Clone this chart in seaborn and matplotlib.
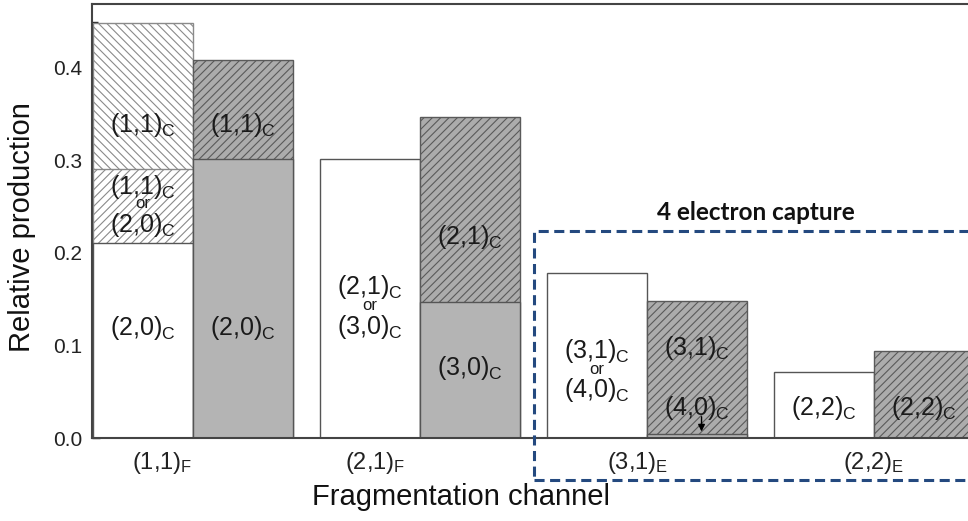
import numpy as np
import pandas as pd
import matplotlib
matplotlib.use("Agg")
import matplotlib.pyplot as plt
import seaborn as sns
from matplotlib.patches import Rectangle

# ---------------- data ----------------
channels = [r"(1,1)$_\mathregular{F}$", r"(2,1)$_\mathregular{F}$",
            r"(3,1)$_\mathregular{E}$", r"(2,2)$_\mathregular{E}$"]
series = ["measured", "model"]

# cumulative heights of stacked segments (NaN = segment absent)
left_upper = [0.448, np.nan, np.nan, np.nan]    # back-hatched (1,1)_C
left_middle = [0.291, np.nan, np.nan, np.nan]   # hatched (1,1)_C or (2,0)_C
left_white = [0.211, 0.301, 0.178, 0.071]       # open bars
right_hatched = [0.409, 0.347, 0.148, 0.094]    # dark hatched
right_solid = [0.302, 0.147, 0.004, np.nan]     # solid grey base

# in-bar labels: (channel index, series, y, text, size)
C = r"$_\mathregular{C}$"
bar_labels = [
    (0, 0, 0.338, "(1,1)" + C, 18), (0, 0, 0.271, "(1,1)" + C, 18),
    (0, 0, 0.253, "or", 12), (0, 0, 0.230, "(2,0)" + C, 18),
    (0, 0, 0.119, "(2,0)" + C, 18),
    (0, 1, 0.338, "(1,1)" + C, 18), (0, 1, 0.119, "(2,0)" + C, 18),
    (1, 0, 0.163, "(2,1)" + C, 18), (1, 0, 0.143, "or", 12),
    (1, 0, 0.120, "(3,0)" + C, 18),
    (1, 1, 0.217, "(2,1)" + C, 18), (1, 1, 0.076, "(3,0)" + C, 18),
    (2, 0, 0.094, "(3,1)" + C, 18), (2, 0, 0.074, "or", 12),
    (2, 0, 0.052, "(4,0)" + C, 18),
    (2, 1, 0.097, "(3,1)" + C, 18), (2, 1, 0.032, "(4,0)" + C, 18),
    (3, 0, 0.032, "(2,2)" + C, 18), (3, 1, 0.032, "(2,2)" + C, 18),
]

# ---------------- style ----------------
sns.set_style("white")
plt.rcParams["font.family"] = ["Liberation Sans", "DejaVu Sans"]
plt.rcParams["mathtext.fontset"] = "custom"
plt.rcParams["mathtext.rm"] = "Liberation Sans"
plt.rcParams["mathtext.it"] = "Liberation Sans:italic"
plt.rcParams["mathtext.bf"] = "Liberation Sans:bold"
plt.rcParams["mathtext.sf"] = "Liberation Sans"
plt.rcParams["mathtext.default"] = "regular"
plt.rcParams["hatch.linewidth"] = 0.8

fig = plt.figure(figsize=(9.68, 5.21), dpi=100)
ax = fig.add_axes([92 / 968, 83 / 521, (1000 - 92) / 968, 434 / 521])

WIDTH = 0.881
layers = [
    (series[0], left_upper, "white", "#8a8a8a", "\\\\\\\\"),
    (series[0], left_middle, "white", "#8a8a8a", "////"),
    (series[0], left_white, "white", "#555555", None),
    (series[1], right_hatched, "#acacac", "#5a5a5a", "////"),
    (series[1], right_solid, "#b4b4b4", "#555555", None),
]
for ser, vals, face, edge, hatch in layers:
    df = pd.DataFrame({"channel": channels, "value": vals, "series": ser}).dropna()
    kw = dict(edgecolor=edge, linewidth=1.0)
    if hatch:
        kw["hatch"] = hatch
    sns.barplot(data=df, x="channel", y="value", hue="series", order=channels,
                hue_order=series, palette={series[0]: face, series[1]: face},
                width=WIDTH, dodge=True, legend=False, ax=ax, **kw)

# labels in bars
off = WIDTH / 4
for ci, si, y, txt, size in bar_labels:
    x = ci + (-off if si == 0 else off)
    ax.text(x, y, txt, ha="center", va="center", fontsize=size, color="#1a1a1a")

# arrow for thin (4,0)_C segment
ax.annotate("", xy=(2 + off + 0.02, 0.004), xytext=(2 + off + 0.02, 0.026),
            arrowprops=dict(arrowstyle="-|>", color="black", lw=1.0, mutation_scale=10))

# axes styling
ax.set_xlim((92 - 193) / 227, (1000 - 193) / 227)
ax.set_ylim(0, 0.469)
label_pos = [-0.134, 0.802, 1.960, 2.998]   # category label placement (layout only)
ax.set_xticks(label_pos, labels=channels)
ax.set_yticks([0.0, 0.1, 0.2, 0.3, 0.4])
ax.set_yticks([0.05, 0.15, 0.25, 0.35, 0.45], minor=True)
ax.yaxis.set_major_formatter(matplotlib.ticker.FormatStrFormatter("%.1f"))
ax.tick_params(axis="y", which="major", direction="in", length=6, width=1,
               labelsize=15, pad=7, left=True, colors="#222222")
ax.tick_params(axis="y", which="minor", direction="in", length=4, width=1, left=True)
ax.tick_params(axis="x", length=0, pad=9, labelsize=17, colors="#222222")
for s in ["left", "bottom", "top"]:
    ax.spines[s].set_color("#444444")
    ax.spines[s].set_linewidth(1.5)
ax.spines["right"].set_visible(False)
ax.set_xlabel("")
ax.set_ylabel("")

fig.text(461 / 968, 1 - 497 / 521, "Fragmentation channel", ha="center", va="center",
         fontsize=21, color="#111111")
fig.text(22 / 968, 1 - 227 / 521, "Relative production", ha="center", va="center",
         rotation=90, fontsize=21, color="#111111")

# dashed box for 4 electron capture
x0 = (534 - 193) / 227
y0 = (438 - 480) / 925
y1 = (438 - 231) / 925
box = Rectangle((x0, y0), 4.2 - x0, y1 - y0, fill=False, edgecolor="#24497f",
                linewidth=2.2, linestyle=(0, (3.3, 1.8)), clip_on=False, zorder=5)
ax.add_patch(box)
ax.text((756 - 193) / 227, (438 - 213) / 925, "4 electron capture", ha="center",
        va="center", fontsize=17.5, fontweight="bold", family=["Lato", "DejaVu Sans"],
        color="#111111")

fig.savefig("out.png", dpi=100)
